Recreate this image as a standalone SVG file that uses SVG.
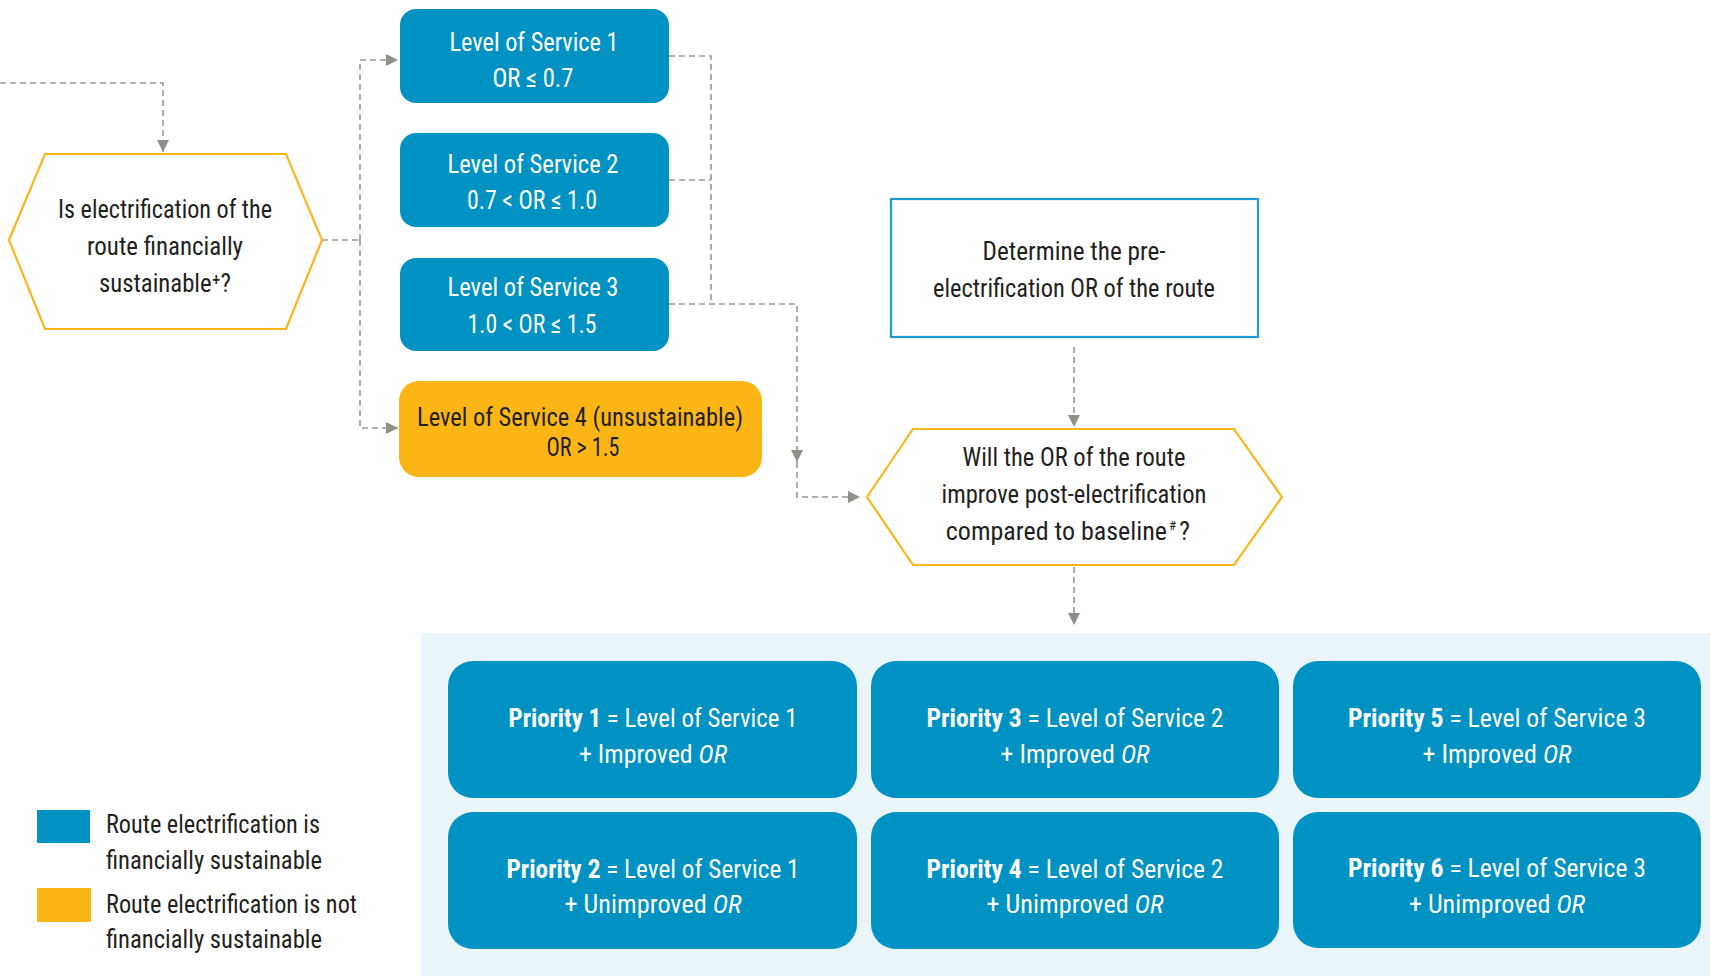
<svg xmlns="http://www.w3.org/2000/svg" width="1710" height="976" viewBox="0 0 1710 976">
<style>
text{font-family:"Liberation Sans Narrow","Roboto Condensed","DejaVu Sans Condensed","Liberation Sans",sans-serif;font-size:26px;text-anchor:middle}
.dk{fill:#231F20}
.wt{fill:#FFFFFF}
.blue{fill:#0192C4}
.orange{fill:#FBB615}
.hex{fill:#FFFFFF;stroke:#F9B51A;stroke-width:2.2}
.conn{fill:none;stroke:#9A9A93;stroke-width:1.6;stroke-dasharray:6 4}
.lg{text-anchor:start}
.end{text-anchor:end}
.sup{font-size:13px;text-anchor:start}
</style>
<defs>
<marker id="arr" viewBox="0 0 12 12" refX="12" refY="6" markerWidth="12" markerHeight="12" markerUnits="userSpaceOnUse" orient="auto">
<path d="M0,0 L12,6 L0,12 z" fill="#8E8F87"/>
</marker>
</defs>
<rect x="421" y="633" width="1289" height="343" fill="#EAF5FA"/>
<g id="connectors">
<path class="conn" d="M0,83 H163 V152" marker-end="url(#arr)"/>
<path class="conn" d="M322,240 H360"/>
<path class="conn" d="M360,240 V60 H398" marker-end="url(#arr)"/>
<path class="conn" d="M360,240 V428 H398" marker-end="url(#arr)"/>
<path class="conn" d="M669,56 H711 V304"/>
<path class="conn" d="M669,180 H711"/>
<path class="conn" d="M669,304 H797 V462" marker-end="url(#arr)"/>
<path class="conn" d="M797,462 V497 H860" marker-end="url(#arr)"/>
<path class="conn" d="M1074,347 V427" marker-end="url(#arr)"/>
<path class="conn" d="M1074,567 V625" marker-end="url(#arr)"/>
</g>
<g id="q1">
<polygon class="hex" points="9,240 45,154 286,154 322,240 286,329 45,329"/>
<text class="dk" x="165" y="218" textLength="214" lengthAdjust="spacingAndGlyphs">Is electrification of the</text>
<text class="dk" x="165" y="255" textLength="156" lengthAdjust="spacingAndGlyphs">route financially</text>
<text class="dk" x="165" y="292" textLength="132" lengthAdjust="spacingAndGlyphs">sustainable⁺?</text>
</g>
<g id="los1">
<rect class="blue" x="400" y="9" width="269" height="94" rx="16"/>
<text class="wt" x="534" y="51" textLength="169" lengthAdjust="spacingAndGlyphs">Level of Service 1</text>
<text class="wt" x="533" y="87" textLength="81" lengthAdjust="spacingAndGlyphs">OR ≤ 0.7</text>
</g>
<g id="los2">
<rect class="blue" x="400" y="133" width="269" height="94" rx="16"/>
<text class="wt" x="533" y="173" textLength="171" lengthAdjust="spacingAndGlyphs">Level of Service 2</text>
<text class="wt" x="532" y="209" textLength="130" lengthAdjust="spacingAndGlyphs">0.7 &lt; OR ≤ 1.0</text>
</g>
<g id="los3">
<rect class="blue" x="400" y="258" width="269" height="93" rx="16"/>
<text class="wt" x="533" y="296" textLength="171" lengthAdjust="spacingAndGlyphs">Level of Service 3</text>
<text class="wt" x="532" y="333" textLength="129" lengthAdjust="spacingAndGlyphs">1.0 &lt; OR ≤ 1.5</text>
</g>
<g id="los4">
<rect class="orange" x="399" y="381" width="363" height="96" rx="20"/>
<text class="dk" x="580" y="426" textLength="326" lengthAdjust="spacingAndGlyphs">Level of Service 4 (unsustainable)</text>
<text class="dk" x="583" y="456" textLength="73" lengthAdjust="spacingAndGlyphs">OR &gt; 1.5</text>
</g>
<g id="determine">
<rect x="891" y="199" width="367" height="138" fill="#FFFFFF" stroke="#1B9BD1" stroke-width="2.2"/>
<text class="dk" x="1074" y="260" textLength="183" lengthAdjust="spacingAndGlyphs">Determine the pre-</text>
<text class="dk" x="1074" y="297" textLength="282" lengthAdjust="spacingAndGlyphs">electrification OR of the route</text>
</g>
<g id="q2">
<polygon class="hex" points="867,497 913,429 1234,429 1282,497 1234,565 913,565"/>
<text class="dk" x="1074" y="466" textLength="223" lengthAdjust="spacingAndGlyphs">Will the OR of the route</text>
<text class="dk" x="1074" y="503" textLength="265" lengthAdjust="spacingAndGlyphs">improve post-electrification</text>
<text class="dk end" x="1167" y="540">compared to baseline</text>
<text class="dk sup" x="1169" y="530">#</text>
<text class="dk lg" x="1179" y="540">?</text>
</g>
<g id="p1">
<rect class="blue" x="448" y="661" width="409" height="137" rx="25"/>
<text class="wt" x="653" y="727" textLength="289" lengthAdjust="spacingAndGlyphs"><tspan font-weight="bold">Priority 1</tspan> = Level of Service 1</text>
<text class="wt" x="653" y="763" textLength="148" lengthAdjust="spacingAndGlyphs">+ Improved <tspan font-style="italic">OR</tspan></text>
</g>
<g id="p2">
<rect class="blue" x="448" y="812" width="409" height="137" rx="25"/>
<text class="wt" x="653" y="878" textLength="293" lengthAdjust="spacingAndGlyphs"><tspan font-weight="bold">Priority 2</tspan> = Level of Service 1</text>
<text class="wt" x="653" y="913" textLength="177" lengthAdjust="spacingAndGlyphs">+ Unimproved <tspan font-style="italic">OR</tspan></text>
</g>
<g id="p3">
<rect class="blue" x="871" y="661" width="408" height="137" rx="25"/>
<text class="wt" x="1075" y="727" textLength="297" lengthAdjust="spacingAndGlyphs"><tspan font-weight="bold">Priority 3</tspan> = Level of Service 2</text>
<text class="wt" x="1075" y="763" textLength="149" lengthAdjust="spacingAndGlyphs">+ Improved <tspan font-style="italic">OR</tspan></text>
</g>
<g id="p4">
<rect class="blue" x="871" y="812" width="408" height="137" rx="25"/>
<text class="wt" x="1075" y="878" textLength="297" lengthAdjust="spacingAndGlyphs"><tspan font-weight="bold">Priority 4</tspan> = Level of Service 2</text>
<text class="wt" x="1075" y="913" textLength="177" lengthAdjust="spacingAndGlyphs">+ Unimproved <tspan font-style="italic">OR</tspan></text>
</g>
<g id="p5">
<rect class="blue" x="1293" y="661" width="408" height="137" rx="25"/>
<text class="wt" x="1497" y="727" textLength="298" lengthAdjust="spacingAndGlyphs"><tspan font-weight="bold">Priority 5</tspan> = Level of Service 3</text>
<text class="wt" x="1497" y="763" textLength="149" lengthAdjust="spacingAndGlyphs">+ Improved <tspan font-style="italic">OR</tspan></text>
</g>
<g id="p6">
<rect class="blue" x="1293" y="812" width="408" height="136" rx="25"/>
<text class="wt" x="1497" y="877" textLength="298" lengthAdjust="spacingAndGlyphs"><tspan font-weight="bold">Priority 6</tspan> = Level of Service 3</text>
<text class="wt" x="1497" y="913" textLength="176" lengthAdjust="spacingAndGlyphs">+ Unimproved <tspan font-style="italic">OR</tspan></text>
</g>
<g id="legend">
<rect class="blue" x="37" y="810" width="53" height="33"/>
<rect class="orange" x="37" y="888" width="54" height="34"/>
<text class="dk lg" x="106" y="833" textLength="214" lengthAdjust="spacingAndGlyphs">Route electrification is</text>
<text class="dk lg" x="106" y="869" textLength="216" lengthAdjust="spacingAndGlyphs">financially sustainable</text>
<text class="dk lg" x="106" y="913" textLength="251" lengthAdjust="spacingAndGlyphs">Route electrification is not</text>
<text class="dk lg" x="106" y="948" textLength="216" lengthAdjust="spacingAndGlyphs">financially sustainable</text>
</g>
</svg>
